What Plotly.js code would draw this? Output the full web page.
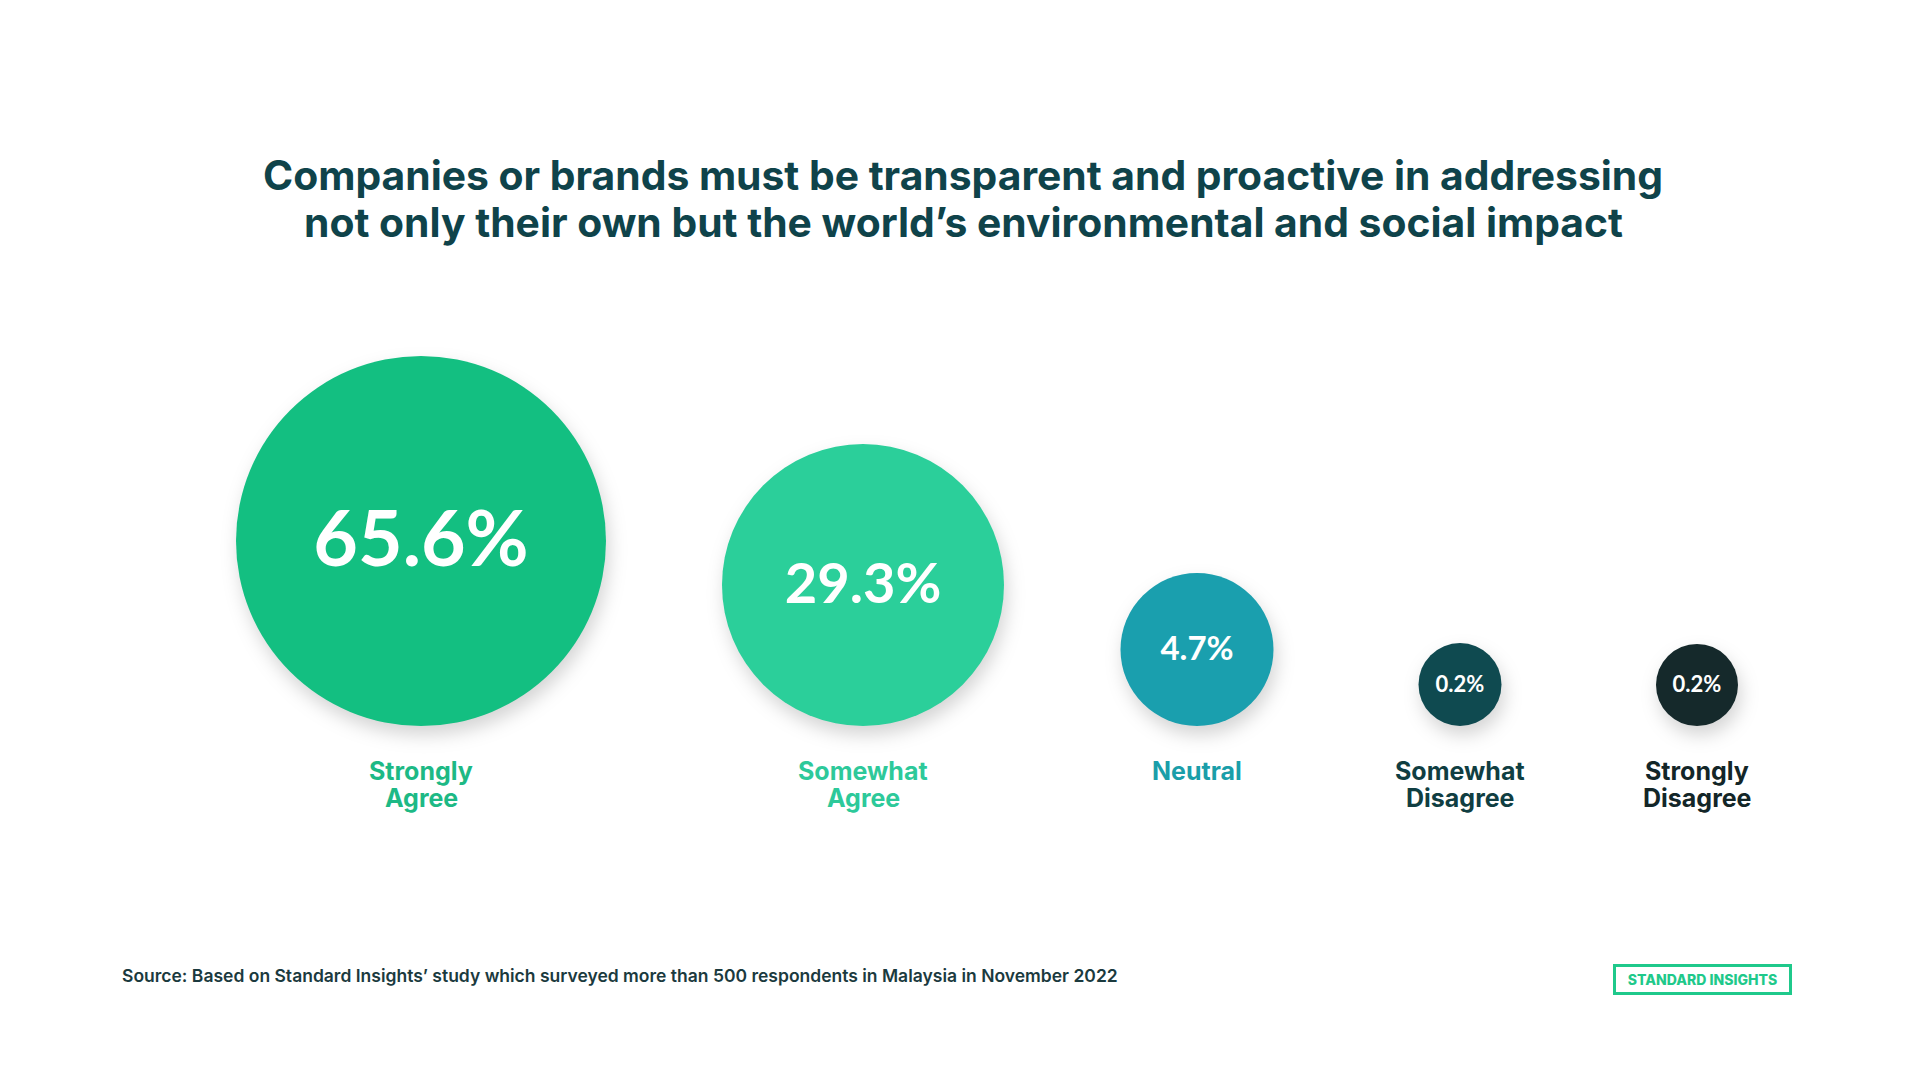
<!DOCTYPE html>
<html>
<head>
<meta charset="utf-8">
<script src="https://cdn.plot.ly/plotly-3.0.1.min.js"></script>
<style>
  html, body { margin: 0; padding: 0; background: #ffffff; }
  #chart { width: 1926px; height: 1080px; }
  #chart .scatterlayer .trace:first-child path.point {
    filter: drop-shadow(3px 9px 9px rgba(0, 0, 0, 0.17));
  }
</style>
</head>
<body>
<div id="chart"></div>
<script>
// ---------- data ----------
const categories = ["Strongly Agree", "Somewhat Agree", "Neutral", "Somewhat Disagree", "Strongly Disagree"];
const values = [65.6, 29.3, 4.7, 0.2, 0.2];
const titleLines = [
  "Companies or brands must be transparent and proactive in addressing",
  "not only their own but the world\u2019s environmental and social impact"
];
const sourceText = "Source: Based on Standard Insights\u2019 study which surveyed more than 500 respondents in Malaysia in November 2022";
const brandText = "STANDARD INSIGHTS";

// ---------- layout / style ----------
const xPos = [421, 863, 1197, 1460, 1697];          // circle centres (px)
const diameters = [370, 282, 153, 83, 82];          // circle diameters (px)
const baseY = 726;                                  // common bottom of the circles
const circleColors = ["#13BF81", "#2BCF9A", "#1A9FAE", "#0F4A50", "#15292B"];
const labelColors  = ["#1DB985", "#2DC99A", "#1A9EA9", "#103E42", "#132628"];
const valueFontSizes = [77, 56, 33, 22, 22];
const NUMFONT = "Lato, 'Open Sans', sans-serif";
const FONT = "Inter, 'Open Sans', sans-serif";
const TITLE_SIZE = 40.8;
const TITLE_COLOR = "#0F434A";

const yCenters = diameters.map(d => baseY - d / 2);

const circles = {
  type: "scatter",
  mode: "markers",
  x: xPos,
  y: yCenters,
  marker: { size: diameters, sizemode: "diameter", color: circleColors, opacity: 1, line: { width: 0 } },
  hoverinfo: "skip",
  cliponaxis: false,
  showlegend: false
};

const valueLabels = {
  type: "scatter",
  mode: "text",
  x: xPos,
  y: yCenters.map((y, i) => y + valueFontSizes[i] * 0.07),
  text: values.map(v => v.toFixed(1) + "%"),
  textposition: "middle center",
  textfont: { family: NUMFONT, size: valueFontSizes, color: "#ffffff", weight: 700 },
  hoverinfo: "skip",
  cliponaxis: false,
  showlegend: false
};

const annotations = [];

// second title line (first line is layout.title) – kept separate for tighter line spacing
annotations.push({
  x: 963, y: 222, xref: "x", yref: "y",
  text: titleLines[1], showarrow: false, xanchor: "center", yanchor: "middle",
  font: { family: FONT, size: TITLE_SIZE, color: TITLE_COLOR, weight: 700 }
});

categories.forEach((c, i) => {
  const words = c.split(" ");
  words.forEach((w, j) => {
    annotations.push({
      x: xPos[i], y: 754 + j * 27, xref: "x", yref: "y",
      text: w, showarrow: false, xanchor: "center", yanchor: "top",
      font: { family: FONT, size: 25, color: labelColors[i], weight: 700 }
    });
  });
});

annotations.push({
  x: 120, y: 975, xref: "x", yref: "y",
  text: sourceText, showarrow: false, xanchor: "left", yanchor: "middle",
  font: { family: FONT, size: 17.5, color: "#1B3A3E", weight: 600 }
});

annotations.push({
  x: 1702.5, y: 979.5, xref: "x", yref: "y",
  text: brandText, showarrow: false, xanchor: "center", yanchor: "middle",
  width: 173, height: 25, borderpad: 0,
  bordercolor: "#1FC98B", borderwidth: 3,
  font: { family: FONT, size: 14, color: "#1FC98B", weight: 800 }
});

const layout = {
  width: 1926,
  height: 1080,
  margin: { l: 0, r: 0, t: 0, b: 0, pad: 0 },
  paper_bgcolor: "#ffffff",
  plot_bgcolor: "#ffffff",
  title: {
    text: titleLines[0],
    x: 0.5, xanchor: "center",
    y: 1 - 176 / 1080, yanchor: "middle", yref: "container",
    font: { family: FONT, size: TITLE_SIZE, color: TITLE_COLOR, weight: 700 }
  },
  xaxis: { range: [0, 1926], visible: false, fixedrange: true },
  yaxis: { range: [1080, 0], visible: false, fixedrange: true },
  annotations: annotations,
  showlegend: false
};

Plotly.newPlot("chart", [circles, valueLabels], layout, { staticPlot: true, displayModeBar: false });
</script>
</body>
</html>
